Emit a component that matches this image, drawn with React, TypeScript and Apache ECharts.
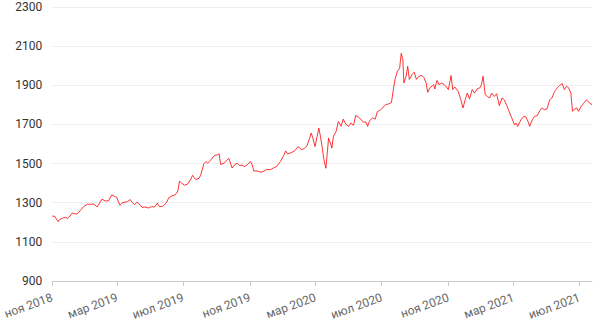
import React, { useEffect, useRef } from "react";
import * as echarts from "echarts";

const dates: string[] = [
  "2018-11-01","2018-11-06","2018-11-12","2018-11-15","2018-11-20","2018-11-25","2018-11-29",
  "2018-12-04","2018-12-08","2018-12-13","2018-12-17","2018-12-23","2018-12-29",
  "2019-01-05","2019-01-11","2019-01-17","2019-01-23","2019-01-29","2019-02-01","2019-02-07",
  "2019-02-13","2019-02-19","2019-02-24","2019-02-28","2019-03-06","2019-03-11","2019-03-16",
  "2019-03-20","2019-03-25","2019-03-29","2019-04-02","2019-04-06","2019-04-10","2019-04-16",
  "2019-04-22","2019-04-28","2019-05-04","2019-05-09","2019-05-14","2019-05-18","2019-05-24",
  "2019-05-31","2019-06-04","2019-06-10","2019-06-16","2019-06-21","2019-06-24","2019-06-28",
  "2019-07-03","2019-07-09","2019-07-15","2019-07-18","2019-07-24","2019-07-30","2019-08-02",
  "2019-08-05","2019-08-08","2019-08-12","2019-08-15","2019-08-21","2019-08-27","2019-09-02",
  "2019-09-05","2019-09-08","2019-09-14","2019-09-20","2019-09-23","2019-09-29","2019-10-04",
  "2019-10-08","2019-10-13","2019-10-17","2019-10-22","2019-10-27","2019-11-02","2019-11-05",
  "2019-11-08","2019-11-14","2019-11-20","2019-11-26","2019-12-02","2019-12-08","2019-12-14",
  "2019-12-20","2019-12-27","2020-01-02","2020-01-06","2020-01-09","2020-01-14","2020-01-19",
  "2020-01-23","2020-01-29","2020-02-04","2020-02-10","2020-02-14","2020-02-18","2020-02-22",
  "2020-02-25","2020-02-29","2020-03-04","2020-03-07","2020-03-10","2020-03-13","2020-03-16",
  "2020-03-20","2020-03-22","2020-03-25","2020-03-29","2020-03-31","2020-04-03","2020-04-08",
  "2020-04-12","2020-04-17","2020-04-21","2020-04-26","2020-05-01","2020-05-05","2020-05-10",
  "2020-05-14","2020-05-19","2020-05-24","2020-05-28","2020-06-02","2020-06-05","2020-06-09",
  "2020-06-14","2020-06-19","2020-06-23","2020-06-29","2020-07-03","2020-07-08","2020-07-14",
  "2020-07-19","2020-07-23","2020-07-26","2020-07-30","2020-08-03","2020-08-06","2020-08-09",
  "2020-08-11","2020-08-15","2020-08-18","2020-08-21","2020-08-26","2020-08-30","2020-09-03",
  "2020-09-07","2020-09-13","2020-09-17","2020-09-21","2020-09-24","2020-09-28","2020-10-05",
  "2020-10-07","2020-10-11","2020-10-15","2020-10-20","2020-10-26","2020-11-01","2020-11-06",
  "2020-11-09","2020-11-13","2020-11-19","2020-11-24","2020-11-28","2020-12-02","2020-12-06",
  "2020-12-10","2020-12-15","2020-12-19","2020-12-24","2020-12-29","2021-01-01","2021-01-04",
  "2021-01-08","2021-01-12","2021-01-16","2021-01-20","2021-01-25","2021-01-29","2021-02-03",
  "2021-02-08","2021-02-12","2021-02-17","2021-02-21","2021-02-26","2021-03-03","2021-03-06",
  "2021-03-09","2021-03-15","2021-03-20","2021-03-24","2021-03-28","2021-03-31","2021-04-05",
  "2021-04-09","2021-04-14","2021-04-19","2021-04-23","2021-04-27","2021-05-02","2021-05-07",
  "2021-05-11","2021-05-16","2021-05-21","2021-05-25","2021-05-30","2021-06-03","2021-06-07",
  "2021-06-11","2021-06-15","2021-06-18","2021-06-22","2021-06-26","2021-06-29","2021-07-04",
  "2021-07-08","2021-07-14","2021-07-19","2021-07-24",
];

const prices: number[] = [
  1232,1230,1203,1215,1221,1225,1220,
  1232,1247,1244,1242,1260,1280,
  1292,1292,1293,1278,1305,1318,1309,
  1310,1340,1332,1328,1287,1300,1303,
  1306,1316,1300,1290,1302,1295,1276,
  1278,1273,1280,1278,1298,1280,1282,
  1300,1325,1335,1340,1360,1410,1400,
  1390,1395,1421,1440,1418,1425,1440,
  1470,1500,1510,1502,1519,1540,1545,
  1550,1495,1502,1518,1527,1477,1495,
  1502,1490,1492,1485,1494,1510,1495,
  1462,1462,1456,1460,1470,1468,1477,
  1485,1510,1540,1565,1550,1553,1560,
  1567,1587,1570,1579,1590,1621,1656,
  1630,1587,1640,1681,1640,1587,1527,
  1476,1536,1630,1600,1579,1640,1665,
  1715,1690,1727,1700,1690,1707,1695,
  1745,1738,1725,1712,1712,1690,1720,
  1733,1727,1765,1775,1785,1801,1805,
  1812,1887,1935,1972,1985,2063,2032,
  1912,1946,1997,1930,1955,1967,1930,
  1944,1951,1939,1912,1864,1887,1903,
  1881,1925,1903,1912,1899,1878,1950,
  1878,1891,1869,1826,1784,1826,1860,
  1830,1878,1860,1881,1887,1903,1946,
  1852,1843,1835,1860,1843,1857,1796,
  1835,1826,1796,1767,1733,1698,1707,
  1690,1724,1741,1738,1715,1690,1724,
  1741,1745,1772,1784,1775,1779,1826,
  1835,1869,1887,1899,1909,1878,1895,
  1887,1860,1767,1779,1784,1767,1792,
  1806,1826,1810,1801,
];

const tickDates: string[] = [
  "2018-11-01","2019-03-01","2019-07-01","2019-11-01","2020-03-01",
  "2020-07-01","2020-11-01","2021-03-01","2021-07-01",
];
const tickLabels: string[] = [
  "ноя 2018","мар 2019","июл 2019","ноя 2019","мар 2020",
  "июл 2020","ноя 2020","мар 2021","июл 2021",
];

const xMinDate = "2018-11-01";
const xMaxDate = "2021-07-24";
const yMin = 900;
const yMax = 2300;
const yStep = 200;

const toTime = (s: string) => {
  const [y, m, d] = s.split("-").map(Number);
  return Date.UTC(y, m - 1, d);
};

export default function App() {
  const ref = useRef<HTMLDivElement>(null);
  useEffect(() => {
    document.body.style.margin = "0";
    const chart = echarts.init(ref.current!, null, { renderer: "svg" });
    const tickTimes = tickDates.map(toTime);
    const data = dates.map((d, i) => [toTime(d), prices[i]]);
    chart.setOption({
      animation: false,
      textStyle: { fontFamily: "Roboto" },
      grid: { left: 46, right: 8, top: 7, bottom: 41, containLabel: false },
      xAxis: {
        type: "value",
        min: toTime(xMinDate),
        max: toTime(xMaxDate),
        axisLine: { show: true, lineStyle: { color: "#ccc" } },
        axisTick: { show: true, length: 5, lineStyle: { color: "#ccc" }, customValues: tickTimes },
        axisLabel: {
          customValues: tickTimes,
          rotate: 20,
          margin: 16,
          color: "#666",
          fontSize: 12,
          fontFamily: "Roboto",
          formatter: (v: number) => {
            let best = 0;
            for (let i = 1; i < tickTimes.length; i++) {
              if (Math.abs(tickTimes[i] - v) < Math.abs(tickTimes[best] - v)) best = i;
            }
            return tickLabels[best];
          },
        },
        splitLine: { show: false },
      },
      yAxis: {
        type: "value",
        min: yMin,
        max: yMax,
        interval: yStep,
        axisLine: { show: false },
        axisTick: { show: false },
        axisLabel: {
          color: "#333",
          fontSize: 12,
          margin: 10,
          fontFamily: "Roboto",
          formatter: (v: number) => String(v),
        },
        splitLine: { show: true, lineStyle: { color: "#eee", width: 1 } },
      },
      series: [
        {
          type: "line",
          data,
          showSymbol: false,
          symbol: "none",
          lineStyle: { color: "#ff0000", width: 0.8 },
          itemStyle: { color: "#ff0000" },
        },
      ],
    });
    return () => chart.dispose();
  }, []);
  return <div ref={ref} style={{ width: 600, height: 322 }} />;
}
